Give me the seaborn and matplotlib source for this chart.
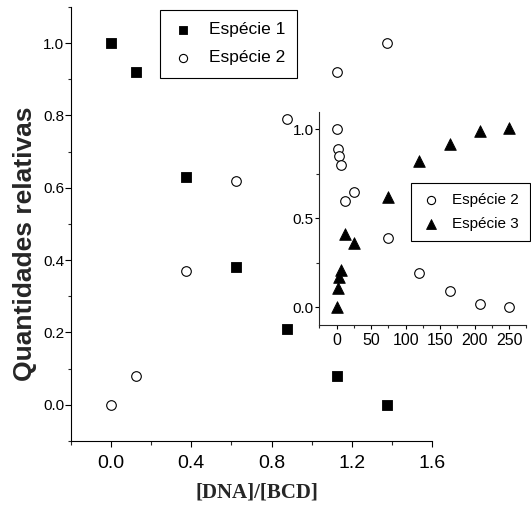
import numpy as np
import pandas as pd
import matplotlib
matplotlib.use("Agg")
import matplotlib.pyplot as plt
from matplotlib import font_manager
from matplotlib.ticker import MultipleLocator, FormatStrFormatter
import seaborn as sns

# Main titration: relative amounts vs [DNA]/[BCD]
ratio = [0.0, 0.125, 0.375, 0.625, 0.875, 1.125, 1.375]
especie1 = [1.0, 0.92, 0.63, 0.38, 0.21, 0.08, 0.0]
especie2 = [0.0, 0.08, 0.37, 0.62, 0.79, 0.92, 1.0]

# Inset titration
inset_x = [0, 2, 3, 6, 12, 25, 75, 120, 165, 208, 250]
inset_esp2 = [1.0, 0.89, 0.85, 0.80, 0.60, 0.65, 0.39, 0.19, 0.09, 0.02, 0.0]
inset_esp3 = [0.0, 0.11, 0.17, 0.21, 0.41, 0.36, 0.62, 0.82, 0.92, 0.99, 1.01]

main_labels = ["Espécie 1", "Espécie 2"]
inset_labels = ["Espécie 2", "Espécie 3"]

sns.set_style("ticks")
names = {f.name for f in font_manager.fontManager.ttflist}
sans = "Liberation Sans" if "Liberation Sans" in names else "DejaVu Sans"
serif = "Liberation Serif" if "Liberation Serif" in names else "DejaVu Serif"
plt.rcParams["font.family"] = [sans, "DejaVu Sans"]
plt.rcParams["axes.linewidth"] = 0.8
plt.rcParams["text.color"] = "black"

main_df = pd.DataFrame({"ratio": ratio, "e1": especie1, "e2": especie2})
inset_df = pd.DataFrame({"x": inset_x, "e2": inset_esp2, "e3": inset_esp3})

fig = plt.figure(figsize=(5.31, 5.09), dpi=100)
ax = fig.add_axes([0.1337, 0.1336, 0.680, 0.8527])

sns.scatterplot(data=main_df, x="ratio", y="e1", marker="s", s=42, color="black",
                edgecolor="black", linewidth=0.6, label=main_labels[0], ax=ax, zorder=3)
sns.scatterplot(data=main_df, x="ratio", y="e2", marker="o", s=48, color="white",
                edgecolor="black", linewidth=0.8, label=main_labels[1], ax=ax, zorder=3)

ax.set_xlim(-0.2, 1.6)
ax.set_ylim(-0.1, 1.1)
ax.xaxis.set_minor_locator(MultipleLocator(0.2))
ax.yaxis.set_minor_locator(MultipleLocator(0.1))
ax.set_xticks([0.0, 0.4, 0.8, 1.2, 1.6])
ax.set_yticks([0.0, 0.2, 0.4, 0.6, 0.8, 1.0])
ax.xaxis.set_major_formatter(FormatStrFormatter("%.1f"))
ax.yaxis.set_major_formatter(FormatStrFormatter("%.1f"))
ax.tick_params(axis="x", which="major", direction="out", length=4, width=0.8,
               labelsize=14, pad=6, colors="black")
ax.tick_params(axis="x", which="minor", direction="out", length=3, width=0.8)
ax.tick_params(axis="y", which="major", direction="out", length=4, width=0.8,
               labelsize=11, pad=1, colors="black")
ax.tick_params(axis="y", which="minor", direction="out", length=2, width=0.8)
sns.despine(ax=ax)
for sp in ("left", "bottom"):
    ax.spines[sp].set_color("black")

ax.set_xlabel("[DNA]/[BCD]", family=serif, fontweight="bold", fontsize=15)
ax.set_ylabel("Quantidades relativas", fontweight="bold", fontsize=19)
ax.xaxis.set_label_coords(0.515, -0.095)
ax.yaxis.set_label_coords(-0.094, 0.455)

leg = ax.legend(loc="upper left", bbox_to_anchor=(0.2465, 0.993), borderaxespad=0,
                frameon=True, fancybox=False, edgecolor="black", framealpha=1,
                prop={"family": sans, "size": 12.5}, handletextpad=0.9,
                labelspacing=0.75, borderpad=0.7, handlelength=1.2, markerscale=0.85)
leg.get_frame().set_linewidth(0.8)

# Inset
axi = fig.add_axes([0.6013, 0.3615, 0.390, 0.419])
axi.patch.set_alpha(0)
sns.scatterplot(data=inset_df, x="x", y="e2", marker="o", s=48, color="white",
                edgecolor="black", linewidth=0.8, label=inset_labels[0], ax=axi, zorder=3)
sns.scatterplot(data=inset_df, x="x", y="e3", marker="^", s=70, color="black",
                edgecolor="black", linewidth=0.6, label=inset_labels[1], ax=axi, zorder=3)
axi.set_xlim(-25, 275)
axi.set_ylim(-0.1, 1.1)
axi.xaxis.set_minor_locator(MultipleLocator(25))
axi.yaxis.set_minor_locator(MultipleLocator(0.25))
axi.set_xticks([0, 50, 100, 150, 200, 250])
axi.set_yticks([0.0, 0.5, 1.0])
axi.yaxis.set_major_formatter(FormatStrFormatter("%.1f"))
axi.tick_params(axis="both", which="major", direction="out", length=3, width=0.8,
                colors="black")
axi.tick_params(axis="both", which="minor", direction="out", length=2.5, width=0.8)
axi.tick_params(axis="x", labelsize=11.5, pad=3)
axi.tick_params(axis="y", labelsize=11, pad=1)
sns.despine(ax=axi)
axi.set_xlabel("")
axi.set_ylabel("")

legi = axi.legend(loc="upper left", bbox_to_anchor=(0.4426, 0.667), borderaxespad=0,
                  frameon=True, fancybox=False, edgecolor="black", framealpha=1,
                  prop={"family": sans, "size": 11}, handletextpad=0.8,
                  labelspacing=0.6, borderpad=0.7, handlelength=1.2, markerscale=0.85)
legi.get_frame().set_linewidth(0.8)

fig.savefig("out.png", dpi=100, facecolor="white")
